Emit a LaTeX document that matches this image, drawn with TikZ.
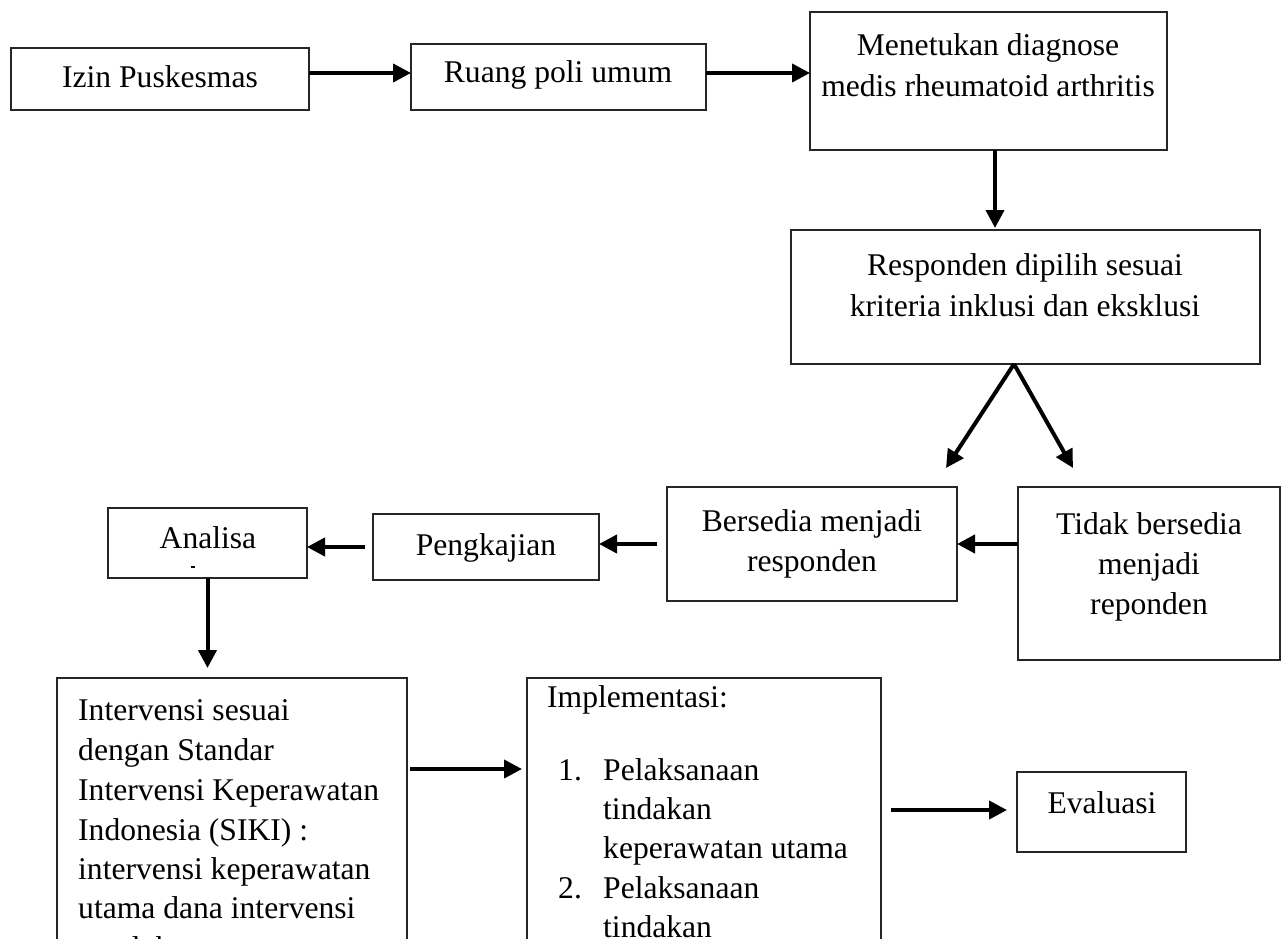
\documentclass[tikz,border=0pt]{standalone}
\usepackage{fontspec}
\setmainfont{Liberation Serif}
\usetikzlibrary{arrows.meta}
\begin{document}
\begin{tikzpicture}[x=1pt,y=-1pt,
 box/.style={draw=black!85, line width=1.3pt, inner sep=0pt, outer sep=0pt, anchor=north west},
 txt/.style={font=\fontsize{31.6}{40}\selectfont, inner sep=0pt, anchor=base},
 ltxt/.style={txt, anchor=base west},
 arr/.style={line width=4pt, -{Triangle[length=18pt,width=18pt]}}]
\useasboundingbox (0,0) rectangle (1282,939);
\clip (0,0) rectangle (1282,939);
% boxes
\node[box, minimum width=298, minimum height=62] (izin) at (11,48) {};
\node[box, minimum width=295, minimum height=66] (ruang) at (411,44) {};
\node[box, minimum width=357, minimum height=138] (men) at (810,12) {};
\node[box, minimum width=469, minimum height=134] (resp) at (791,230) {};
\node[box, minimum width=290, minimum height=114] (bers) at (667,487) {};
\node[box, minimum width=262, minimum height=173] (tidak) at (1018,487) {};
\node[box, minimum width=226, minimum height=66] (peng) at (373,514) {};
\node[box, minimum width=199, minimum height=70] (ana) at (108,508) {};
\node[box, minimum width=350, minimum height=282] (int) at (57,678) {};
\node[box, minimum width=354, minimum height=282] (impl) at (527,678) {};
\node[box, minimum width=169, minimum height=80] (eval) at (1017,772) {};
% texts
\node[txt] (t-izin) at (160,88) {Izin Puskesmas};
\node[txt] (t-ruang) at (558,83) {Ruang poli umum};
\node[txt] (t-men1) at (988,56) {Menetukan diagnose};
\node[txt] (t-men2) at (988,97) {medis rheumatoid arthritis};
\node[txt] (t-resp1) at (1025,275) {Responden dipilih sesuai};
\node[txt] (t-resp2) at (1025,316) {kriteria inklusi dan eksklusi};
\node[txt] (t-bers1) at (812,531) {Bersedia menjadi};
\node[txt] (t-bers2) at (812,571) {responden};
\node[txt] (t-tid1) at (1149,534) {Tidak bersedia};
\node[txt] (t-tid2) at (1149,574) {menjadi};
\node[txt] (t-tid3) at (1149,614) {reponden};
\node[txt] (t-peng) at (486,555) {Pengkajian};
\node[txt] (t-ana) at (208,548) {Analisa};
\draw[line width=1.2pt] (191,567) -- (195,567);
\node[ltxt] (t-int1) at (78,720) {Intervensi sesuai};
\node[ltxt] (t-int2) at (78,760) {dengan Standar};
\node[ltxt] (t-int3) at (78,800) {Intervensi Keperawatan};
\node[ltxt] (t-int4) at (78,840) {Indonesia (SIKI) :};
\node[ltxt] (t-int5) at (78,879) {intervensi keperawatan};
\node[ltxt] (t-int6) at (78,918) {utama dana intervensi};
\node[ltxt] (t-int7) at (78,958) {pendukung};
\node[ltxt] (t-imp0) at (547,707) {Implementasi:};
\node[ltxt] (t-imp1n) at (558,780) {1.};
\node[ltxt] (t-imp1a) at (603,780) {Pelaksanaan};
\node[ltxt] (t-imp1b) at (603,819) {tindakan};
\node[ltxt] (t-imp1c) at (603,858) {keperawatan utama};
\node[ltxt] (t-imp2n) at (558,898) {2.};
\node[ltxt] (t-imp2a) at (603,898) {Pelaksanaan};
\node[ltxt] (t-imp2b) at (603,937) {tindakan};
\node[txt] (t-eval) at (1102,813) {Evaluasi};
% connectors
\draw[arr] ([yshift=6]izin.east) -- ([yshift=6]izin.east -| ruang.west);
\draw[arr] ([yshift=4]ruang.east) -- ([yshift=4]ruang.east -| men.west);
\draw[arr] ([xshift=6.5]men.south) -- ([xshift=6.5,yshift=2]men.south |- resp.north);
\coordinate (va) at ([xshift=-11.5]resp.south);
\coordinate (vl) at (946,468);
\coordinate (vr) at (1073,468);
\draw[arr] (va) -- (vl);
\draw[arr] (va) -- (vr);
\draw[arr] (bers.east -| tidak.west) -- (bers.east);
\draw[arr] ([xshift=-10]bers.west) -- (bers.west -| peng.east);
\draw[arr] ([xshift=-8]peng.west) -- (peng.west -| ana.east);
\draw[arr] (ana.south) -- ([yshift=10]ana.south |- int.north);
\coordinate (ie) at ([yshift=50]int.east);
\draw[arr] ([xshift=3]ie) -- ([xshift=-5]ie -| impl.west);
\draw[arr] ([xshift=10,yshift=2]impl.east |- eval.west) -- ([xshift=-10,yshift=2]eval.west);
\end{tikzpicture}
\end{document}
